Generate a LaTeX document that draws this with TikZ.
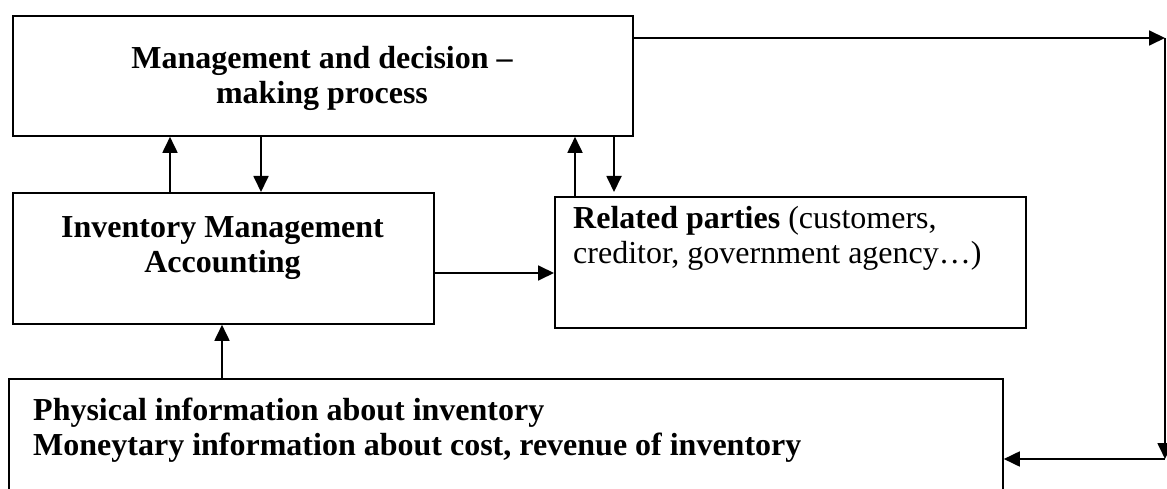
\documentclass[tikz,border=0pt]{standalone}
\usepackage{fontspec}
\setmainfont{Liberation Serif}
\usetikzlibrary{arrows.meta}
\begin{document}
\begin{tikzpicture}[x=1pt,y=-1pt,
  frame/.style={draw, line width=1.8pt, inner sep=0pt, anchor=north west},
  txt/.style={inner sep=0pt, font=\fontsize{32}{35}\selectfont},
  btxt/.style={inner sep=0pt, font=\fontsize{32}{35}\selectfont\bfseries},
  link/.style={line width=1.8pt, -{Triangle[length=16pt,width=15pt]}}]
\useasboundingbox (0,0) rectangle (1167,489);
\clip (0,0) rectangle (1167,489);

% boxes
\node[frame, minimum width=620pt, minimum height=120pt] (mgmt) at (12,15) {};
\node[frame, minimum width=421pt, minimum height=131pt] (inv) at (12,192) {};
\node[frame, minimum width=471pt, minimum height=131pt] (rel) at (554,196) {};
\node[frame, minimum width=994pt, minimum height=122pt] (phys) at (8,378) {};

% box texts
\node[btxt, align=center] (mgmtText) at (322,78) {Management and decision –\\ making process};
\node[btxt, align=center] (invText) at (222.5,248.5) {Inventory Management\\Accounting};
\node[txt, align=left, anchor=west] (relText) at (573,238.5) {\textbf{Related parties} (customers,\\creditor, government agency…)};
\node[btxt, align=left, anchor=west] (physText) at (33,430) {Physical information about inventory\\Moneytary information about cost, revenue of inventory};

% guide columns and rows for the connectors
\coordinate (xa) at (170,0);
\coordinate (xb) at (261,0);
\coordinate (xc) at (575,0);
\coordinate (xd) at (614,0);
\coordinate (xe) at (222,0);
\coordinate (ya) at (0,273);
\coordinate (cornerTop) at (1165,38);
\coordinate (cornerBot) at (1165,459);

% connectors
\draw[link] (inv.north -| xa) -- (mgmt.south -| xa);
\draw[link] (mgmt.south -| xb) -- (inv.north -| xb);
\draw[link] (rel.north -| xc) -- (mgmt.south -| xc);
\draw[link] (mgmt.south -| xd) -- ([yshift=4pt]rel.north -| xd);
\draw[link] (inv.east |- ya) -- (rel.west |- ya);
\draw[link] (phys.north -| xe) -- (inv.south -| xe);
\draw[link] (mgmt.east |- cornerTop) -- (cornerTop);
\draw[link] (cornerTop) -- (cornerBot);
\draw[link] (cornerBot) -- (phys.east |- cornerBot);
\end{tikzpicture}
\end{document}
